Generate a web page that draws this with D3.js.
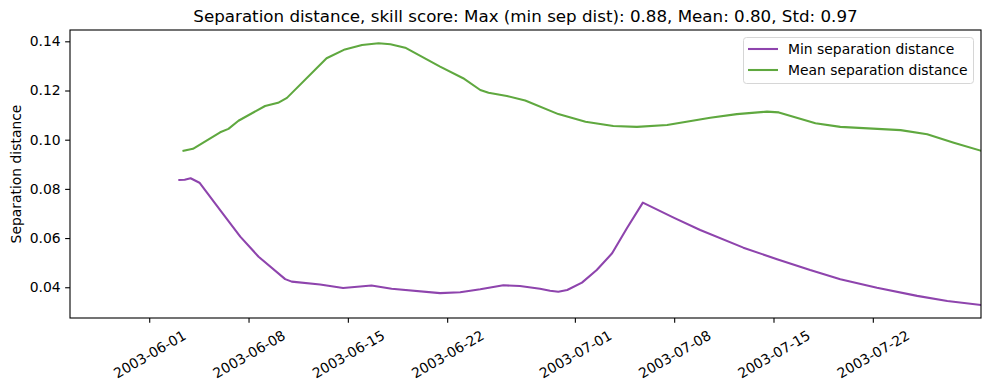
<!DOCTYPE html>
<html>
<head>
<meta charset="utf-8">
<script src="https://cdn.jsdelivr.net/npm/d3@7"></script>
<style>
  body { margin: 0; background: #fff; }
  svg { font-family: "DejaVu Sans", sans-serif; }
</style>
</head>
<body>
<div id="chart"></div>
<script>
// series
const minDates = ['2003-06-03 03:00','2003-06-03 12:00','2003-06-03 22:00','2003-06-04 13:00','2003-06-06 00:00',
  '2003-06-07 10:00','2003-06-08 17:00','2003-06-10 14:00','2003-06-11 01:00','2003-06-13 01:00',
  '2003-06-14 16:00','2003-06-16 16:00','2003-06-18 02:00','2003-06-21 12:00','2003-06-22 22:00',
  '2003-06-24 08:00','2003-06-25 23:00','2003-06-27 03:00','2003-06-28 13:00','2003-06-29 06:00',
  '2003-06-29 20:00','2003-06-30 11:00','2003-07-01 12:00','2003-07-02 13:00','2003-07-03 15:00',
  '2003-07-04 16:00','2003-07-05 19:00','2003-07-07 23:00','2003-07-09 20:00','2003-07-12 21:00',
  '2003-07-15 06:00','2003-07-17 14:00','2003-07-19 17:00','2003-07-22 07:00','2003-07-25 03:00',
  '2003-07-27 06:00','2003-07-29 15:00'];
const minValues = [0.0836,0.0837,0.0843,0.0825,0.0714,
  0.0606,0.0524,0.0433,0.0423,0.0411,
  0.0397,0.0407,0.0394,0.0376,0.0380,
  0.0392,0.0408,0.0405,0.0394,0.0386,
  0.0382,0.0389,0.0419,0.0470,0.0538,
  0.0640,0.0744,0.0683,0.0633,0.0561,
  0.0514,0.0470,0.0433,0.0398,0.0365,
  0.0344,0.0328];

const meanDates = ['2003-06-03 10:00','2003-06-04 02:00','2003-06-06 00:00','2003-06-06 14:00','2003-06-07 07:00',
  '2003-06-09 04:00','2003-06-10 02:00','2003-06-10 17:00','2003-06-13 12:00','2003-06-14 19:00',
  '2003-06-16 00:00','2003-06-17 04:00','2003-06-18 00:00','2003-06-19 01:00','2003-06-21 12:00',
  '2003-06-23 03:00','2003-06-24 08:00','2003-06-24 22:00','2003-06-26 05:00','2003-06-27 12:00',
  '2003-06-29 20:00','2003-07-01 18:00','2003-07-03 17:00','2003-07-05 09:00','2003-07-07 12:00',
  '2003-07-10 13:00','2003-07-12 10:00','2003-07-14 13:00','2003-07-15 09:00','2003-07-17 23:00',
  '2003-07-19 17:00','2003-07-23 23:00','2003-07-25 20:00','2003-07-27 17:00','2003-07-29 15:00'];
const meanValues = [0.0955,0.0963,0.1030,0.1044,0.1077,
  0.1137,0.1150,0.1170,0.1331,0.1367,
  0.1385,0.1392,0.1388,0.1374,0.1297,
  0.1250,0.1202,0.1191,0.1178,0.1159,
  0.1104,0.1073,0.1056,0.1052,0.1060,
  0.1089,0.1104,0.1114,0.1111,0.1067,
  0.1052,0.1039,0.1022,0.0988,0.0955];

const xTickLabels = ['2003-06-01','2003-06-08','2003-06-15','2003-06-22','2003-07-01','2003-07-08','2003-07-15','2003-07-22'];
const yTickValues = [0.04, 0.06, 0.08, 0.10, 0.12, 0.14];
const seriesNames = ['Min separation distance', 'Mean separation distance'];
const seriesColors = ['#8e44ad', '#5fa83f'];
const titleText = 'Separation distance, skill score: Max (min sep dist): 0.88, Mean: 0.80, Std: 0.97';

const width = 989, height = 390;
const margin = {top: 30, right: 8, bottom: 72, left: 70};
const fontSize = 13.9;

const parseTime = d3.utcParse('%Y-%m-%d %H:%M');
const parseDay = d3.utcParse('%Y-%m-%d');

const series = [
  {name: seriesNames[0], color: seriesColors[0], values: minDates.map((d, i) => ({date: parseTime(d), value: minValues[i]}))},
  {name: seriesNames[1], color: seriesColors[1], values: meanDates.map((d, i) => ({date: parseTime(d), value: meanValues[i]}))}
];

const svg = d3.select('#chart').append('svg')
  .attr('width', width)
  .attr('height', height);

const x = d3.scaleUtc()
  .domain([parseTime('2003-05-26 10:00'), parseTime('2003-07-29 15:00')])
  .range([margin.left, width - margin.right]);

const y = d3.scaleLinear()
  .domain([0.0275, 0.1446])
  .range([height - margin.bottom, margin.top]);

// lines, clipped to the axes
svg.append('clipPath').attr('id', 'clip')
  .append('rect')
  .attr('x', margin.left).attr('y', margin.top)
  .attr('width', width - margin.left - margin.right)
  .attr('height', height - margin.top - margin.bottom);

const line = d3.line()
  .x(d => x(d.date))
  .y(d => y(d.value));

svg.append('g')
  .attr('clip-path', 'url(#clip)')
  .selectAll('path')
  .data(series)
  .join('path')
  .attr('fill', 'none')
  .attr('stroke', d => d.color)
  .attr('stroke-width', 2.08)
  .attr('stroke-linejoin', 'round')
  .attr('stroke-linecap', 'square')
  .attr('d', d => line(d.values));

// y axis
const yAxis = svg.append('g')
  .attr('transform', `translate(${margin.left},0)`)
  .call(d3.axisLeft(y).tickValues(yTickValues).tickFormat(d3.format('.2f')).tickSize(4.86).tickPadding(4.5));
yAxis.select('.domain').remove();
yAxis.selectAll('.tick line').attr('stroke', '#000').attr('stroke-width', 1.1);
yAxis.selectAll('.tick text').attr('font-size', fontSize).attr('fill', '#000')
  .attr('font-family', '"DejaVu Sans", sans-serif');

// x axis
const xAxis = svg.append('g')
  .attr('transform', `translate(0,${height - margin.bottom})`)
  .call(d3.axisBottom(x).tickValues(xTickLabels.map(parseDay)).tickFormat(d3.utcFormat('%Y-%m-%d')).tickSize(4.86));
xAxis.select('.domain').remove();
xAxis.selectAll('.tick line').attr('stroke', '#000').attr('stroke-width', 1.1);
xAxis.selectAll('.tick text')
  .attr('font-size', fontSize).attr('fill', '#000')
  .attr('font-family', '"DejaVu Sans", sans-serif')
  .attr('text-anchor', 'middle')
  .attr('dy', null)
  .attr('dominant-baseline', 'central')
  .each(function() {
    // rotate 30 degrees, centre the rotated box under the tick
    const w = this.getComputedTextLength();
    const h = 15;
    const a = Math.PI / 6;
    const bh = w * Math.sin(a) + h * Math.cos(a);
    const cy = 9.5 + bh / 2;
    d3.select(this).attr('y', cy).attr('x', 0)
      .attr('transform', `rotate(-30,0,${cy})`);
  });

// frame
svg.append('rect')
  .attr('x', margin.left).attr('y', margin.top)
  .attr('width', width - margin.left - margin.right)
  .attr('height', height - margin.top - margin.bottom)
  .attr('fill', 'none')
  .attr('stroke', '#000')
  .attr('stroke-width', 1.1);

// title
svg.append('text')
  .attr('x', (margin.left + width - margin.right) / 2)
  .attr('y', margin.top - 8)
  .attr('text-anchor', 'middle')
  .attr('font-size', 16.7)
  .attr('fill', '#000')
  .text(titleText);

// y label
svg.append('text')
  .attr('transform', `translate(21,${(margin.top + height - margin.bottom) / 2}) rotate(-90)`)
  .attr('text-anchor', 'middle')
  .attr('font-size', fontSize)
  .attr('fill', '#000')
  .text('Separation distance');

// legend
const legend = svg.append('g');
legend.append('rect')
  .attr('x', 743.5).attr('y', 37.5)
  .attr('width', 230).attr('height', 46)
  .attr('rx', 3)
  .attr('fill', '#fff')
  .attr('fill-opacity', 0.8)
  .attr('stroke', '#d6d6d6')
  .attr('stroke-width', 1);

const items = legend.selectAll('g.item')
  .data(series)
  .join('g')
  .attr('class', 'item')
  .attr('transform', (d, i) => `translate(748,${49 + i * 21})`);
items.append('line')
  .attr('x1', 0).attr('x2', 30)
  .attr('stroke', d => d.color)
  .attr('stroke-width', 2.08);
items.append('text')
  .attr('x', 40)
  .attr('dy', '0.35em')
  .attr('font-size', fontSize)
  .attr('fill', '#000')
  .text(d => d.name);
</script>
</body>
</html>
